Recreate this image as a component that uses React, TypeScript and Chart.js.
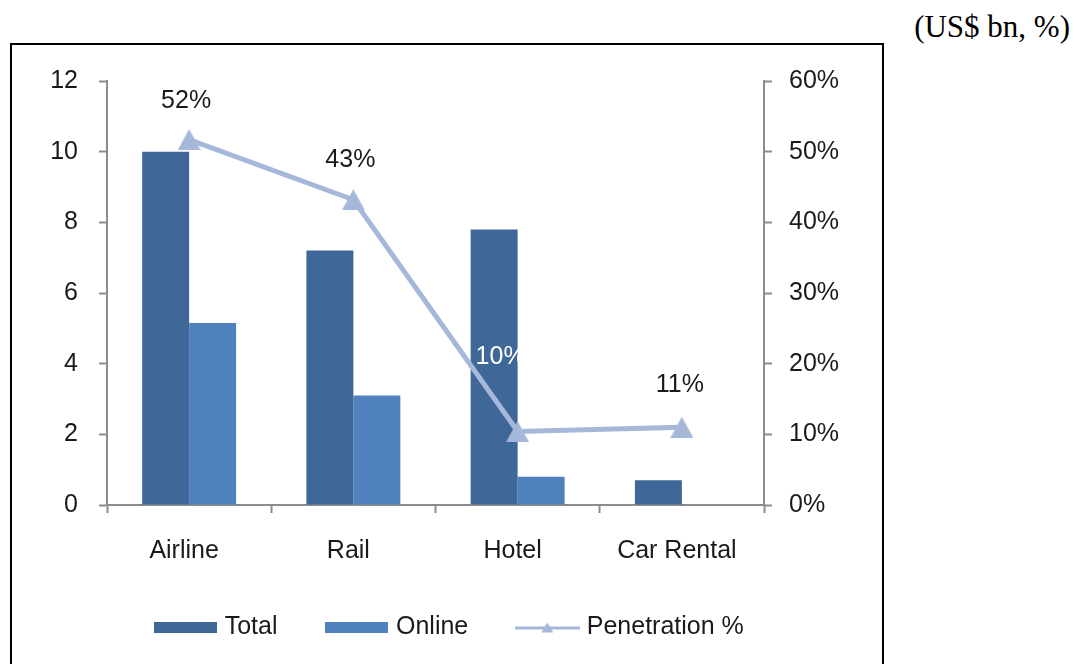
import React, { useEffect, useRef } from 'react';
import { Chart, registerables } from 'chart.js';

Chart.register(...registerables);

const categories = ['Airline', 'Rail', 'Hotel', 'Car Rental'];
const totalValues = [10.0, 7.2, 7.8, 0.7];
const onlineValues: (number | null)[] = [5.15, 3.1, 0.8, null];
const penetrationValues = [51.7, 43.2, 10.4, 11.0];
const penetrationLabels = ['52%', '43%', '10%', '11%'];
const seriesNames = ['Total', 'Online', 'Penetration %'];
const leftAxisRange = [0, 12, 2];
const rightAxisRange = [0, 60, 10];
const unitNote = '(US$ bn, %)';

const FONT_FAMILY = '"Liberation Sans", Arial, sans-serif';
const TEXT_COLOR = '#1a1a1a';
const AXIS_COLOR = '#8c8c8c';
const TOTAL_COLOR = '#3F6797';
const ONLINE_COLOR = '#4F81BD';
const LINE_COLOR = '#A6B8D9';

const LABEL_DX = [-3, -3, -17, -2];
const LABEL_DY = [-39, -40, -74, -42];
const LABEL_COLORS = [TEXT_COLOR, TEXT_COLOR, '#ffffff', TEXT_COLOR];

function makeRect(color: string, w: number, h: number) {
  const c = document.createElement('canvas');
  c.width = w;
  c.height = h;
  const g = c.getContext('2d')!;
  g.fillStyle = color;
  g.fillRect(0, 0, w, h);
  return c;
}

function makeTriangle(color: string, w: number, h: number) {
  const c = document.createElement('canvas');
  c.width = w;
  c.height = h;
  const g = c.getContext('2d')!;
  g.fillStyle = color;
  g.beginPath();
  g.moveTo(w / 2, 0);
  g.lineTo(w, h);
  g.lineTo(0, h);
  g.closePath();
  g.fill();
  return c;
}

function makeLineLegend(color: string) {
  const w = 65;
  const h = 14;
  const c = document.createElement('canvas');
  c.width = w;
  c.height = h;
  const g = c.getContext('2d')!;
  g.fillStyle = color;
  g.fillRect(0, 6, w, 3);
  g.beginPath();
  g.moveTo(w / 2, 2);
  g.lineTo(w / 2 + 6, 12);
  g.lineTo(w / 2 - 6, 12);
  g.closePath();
  g.fill();
  return c;
}

const labelPlugin = {
  id: 'penetrationLabels',
  afterDatasetsDraw(chart: any) {
    const meta = chart.getDatasetMeta(2);
    const ctx = chart.ctx;
    ctx.save();
    ctx.font = '25px ' + FONT_FAMILY;
    ctx.textAlign = 'center';
    ctx.textBaseline = 'middle';
    meta.data.forEach((pt: any, i: number) => {
      ctx.fillStyle = LABEL_COLORS[i];
      ctx.fillText(penetrationLabels[i], pt.x + LABEL_DX[i], pt.y + LABEL_DY[i]);
    });
    ctx.restore();
  },
};

export default function App() {
  const ref = useRef<HTMLCanvasElement>(null);

  useEffect(() => {
    const canvas = ref.current!;
    const triImg = makeTriangle(LINE_COLOR, 23, 21);
    const legendImgs = [
      makeRect(TOTAL_COLOR, 63, 11),
      makeRect(ONLINE_COLOR, 63, 11),
      makeLineLegend(LINE_COLOR),
    ];
    const font = { size: 25, family: FONT_FAMILY };

    const chart = new Chart(canvas, {
      type: 'bar',
      data: {
        labels: categories,
        datasets: [
          {
            type: 'bar',
            label: seriesNames[0],
            data: totalValues,
            backgroundColor: TOTAL_COLOR,
            yAxisID: 'y',
            barPercentage: 1,
            categoryPercentage: 0.572,
            order: 1,
          },
          {
            type: 'bar',
            label: seriesNames[1],
            data: onlineValues,
            backgroundColor: ONLINE_COLOR,
            yAxisID: 'y',
            barPercentage: 1,
            categoryPercentage: 0.572,
            order: 1,
          },
          {
            type: 'line',
            label: seriesNames[2],
            data: penetrationValues,
            borderColor: LINE_COLOR,
            backgroundColor: LINE_COLOR,
            borderWidth: 5,
            tension: 0,
            fill: false,
            pointStyle: triImg as any,
            pointRadius: 12,
            yAxisID: 'y1',
            order: 0,
          },
        ] as any,
      },
      options: {
        responsive: false,
        animation: false,
        devicePixelRatio: 1,
        layout: { padding: { left: 8, right: 0, top: 36, bottom: 14 } },
        plugins: {
          tooltip: { enabled: false },
          legend: {
            position: 'bottom',
            labels: {
              usePointStyle: true,
              pointStyleWidth: 54,
              padding: 52,
              font,
              color: TEXT_COLOR,
              sort: (a: any, b: any) => a.datasetIndex - b.datasetIndex,
              generateLabels: (ch: any) =>
                Chart.defaults.plugins.legend.labels
                  .generateLabels(ch)
                  .map((item: any) => ({ ...item, pointStyle: legendImgs[item.datasetIndex] })),
            },
          },
        },
        scales: {
          x: {
            offset: true,
            grid: {
              offset: true,
              drawOnChartArea: false,
              drawTicks: true,
              tickLength: 8,
              tickWidth: 2,
              tickColor: AXIS_COLOR,
              color: AXIS_COLOR,
            },
            border: { color: AXIS_COLOR, width: 2 },
            ticks: { padding: 23, labelOffset: -5, font, color: TEXT_COLOR },
            afterFit: (s: any) => {
              s.height = 58;
            },
          },
          y: {
            position: 'left',
            min: leftAxisRange[0],
            max: leftAxisRange[1],
            ticks: { stepSize: leftAxisRange[2], padding: 21, font, color: TEXT_COLOR },
            grid: {
              drawOnChartArea: false,
              tickLength: 8,
              tickWidth: 2,
              tickColor: AXIS_COLOR,
              color: AXIS_COLOR,
            },
            border: { color: AXIS_COLOR, width: 2 },
            afterFit: (s: any) => {
              s.width = 87;
            },
          },
          y1: {
            position: 'right',
            min: rightAxisRange[0],
            max: rightAxisRange[1],
            ticks: {
              stepSize: rightAxisRange[2],
              padding: 17,
              font,
              color: TEXT_COLOR,
              callback: (v: any) => v + '%',
            },
            grid: {
              drawOnChartArea: false,
              tickLength: 8,
              tickWidth: 2,
              tickColor: AXIS_COLOR,
              color: AXIS_COLOR,
            },
            border: { color: AXIS_COLOR, width: 2 },
            afterFit: (s: any) => {
              s.width = 118;
            },
          },
        },
      } as any,
      plugins: [labelPlugin],
    });

    return () => chart.destroy();
  }, []);

  return (
    <div
      style={{
        position: 'fixed',
        left: 0,
        top: 0,
        width: 1083,
        height: 664,
        overflow: 'hidden',
        background: '#ffffff',
      }}
    >
      <div
        style={{
          position: 'absolute',
          right: 13,
          top: 9,
          fontFamily: '"Liberation Serif", "Times New Roman", serif',
          fontSize: 31,
          color: '#000',
          whiteSpace: 'nowrap',
        }}
      >
        {unitNote}
      </div>
      <div
        style={{
          position: 'absolute',
          left: 10,
          top: 43,
          width: 870,
          height: 700,
          border: '2px solid #000',
        }}
      >
        <canvas ref={ref} width={870} height={619} style={{ display: 'block', width: 870, height: 619 }} />
      </div>
    </div>
  );
}
